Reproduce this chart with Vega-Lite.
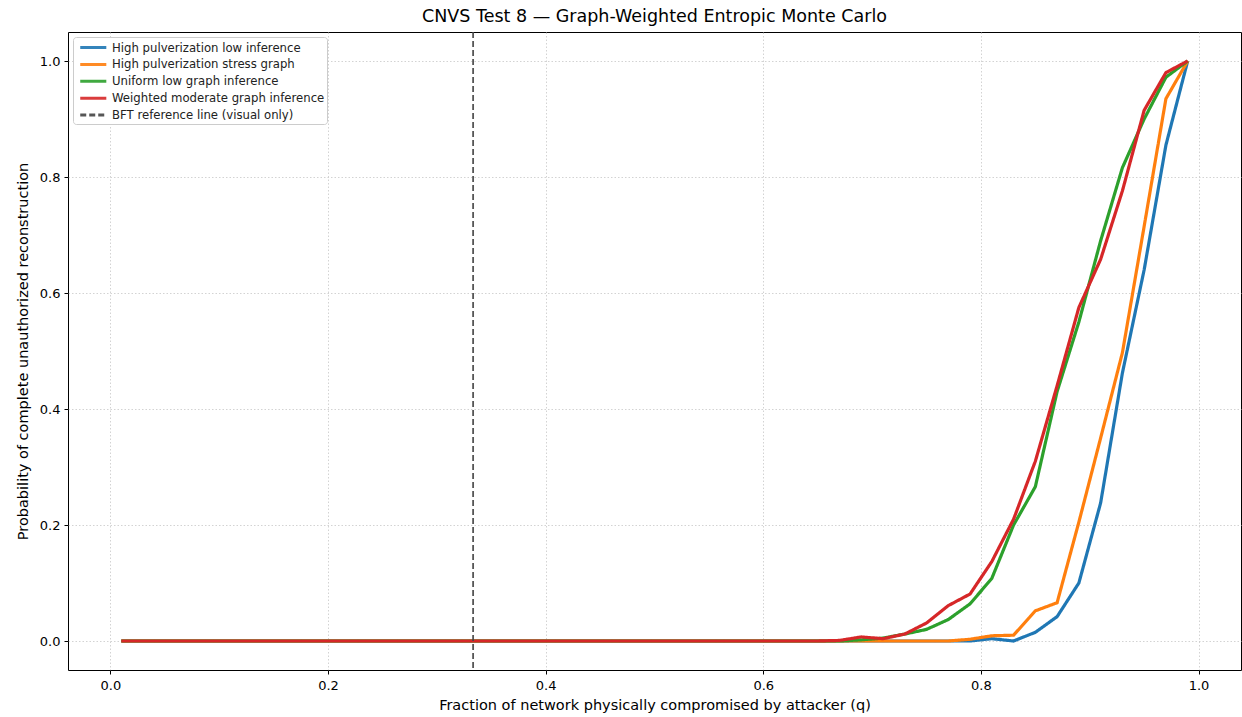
{
  "$schema": "https://vega.github.io/schema/vega-lite/v6.json",
  "width": 1173,
  "height": 638,
  "autosize": {"type": "none"},
  "padding": {"left": 68, "top": 32, "right": 1, "bottom": 47},
  "background": "white",
  "title": {"text": "CNVS Test 8 — Graph-Weighted Entropic Monte Carlo", "fontSize": 17.5, "fontWeight": "normal", "font": "DejaVu Sans", "color": "black", "offset": 6},
  "config": {
    "font": "DejaVu Sans",
    "view": {"stroke": "black", "strokeWidth": 1},
    "axis": {"domain": false, "tickColor": "black", "tickSize": 4, "labelColor": "black", "labelFontSize": 13, "titleFontSize": 14.5, "titleFontWeight": "normal", "titleColor": "black", "gridColor": "#c8c8c8", "gridDash": [1.5, 2], "gridWidth": 0.8}
  },
  "datasets": {
    "curves": [
      {"q": 0.01, "a": 0, "b": 0, "c": 0, "d": 0},
      {"q": 0.03, "a": 0, "b": 0, "c": 0, "d": 0},
      {"q": 0.05, "a": 0, "b": 0, "c": 0, "d": 0},
      {"q": 0.07, "a": 0, "b": 0, "c": 0, "d": 0},
      {"q": 0.09, "a": 0, "b": 0, "c": 0, "d": 0},
      {"q": 0.11, "a": 0, "b": 0, "c": 0, "d": 0},
      {"q": 0.13, "a": 0, "b": 0, "c": 0, "d": 0},
      {"q": 0.15, "a": 0, "b": 0, "c": 0, "d": 0},
      {"q": 0.17, "a": 0, "b": 0, "c": 0, "d": 0},
      {"q": 0.19, "a": 0, "b": 0, "c": 0, "d": 0},
      {"q": 0.21, "a": 0, "b": 0, "c": 0, "d": 0},
      {"q": 0.23, "a": 0, "b": 0, "c": 0, "d": 0},
      {"q": 0.25, "a": 0, "b": 0, "c": 0, "d": 0},
      {"q": 0.27, "a": 0, "b": 0, "c": 0, "d": 0},
      {"q": 0.29, "a": 0, "b": 0, "c": 0, "d": 0},
      {"q": 0.31, "a": 0, "b": 0, "c": 0, "d": 0},
      {"q": 0.33, "a": 0, "b": 0, "c": 0, "d": 0},
      {"q": 0.35, "a": 0, "b": 0, "c": 0, "d": 0},
      {"q": 0.37, "a": 0, "b": 0, "c": 0, "d": 0},
      {"q": 0.39, "a": 0, "b": 0, "c": 0, "d": 0},
      {"q": 0.41, "a": 0, "b": 0, "c": 0, "d": 0},
      {"q": 0.43, "a": 0, "b": 0, "c": 0, "d": 0},
      {"q": 0.45, "a": 0, "b": 0, "c": 0, "d": 0},
      {"q": 0.47, "a": 0, "b": 0, "c": 0, "d": 0},
      {"q": 0.49, "a": 0, "b": 0, "c": 0, "d": 0},
      {"q": 0.51, "a": 0, "b": 0, "c": 0, "d": 0},
      {"q": 0.53, "a": 0, "b": 0, "c": 0, "d": 0},
      {"q": 0.55, "a": 0, "b": 0, "c": 0, "d": 0},
      {"q": 0.57, "a": 0, "b": 0, "c": 0, "d": 0},
      {"q": 0.59, "a": 0, "b": 0, "c": 0, "d": 0},
      {"q": 0.61, "a": 0, "b": 0, "c": 0, "d": 0},
      {"q": 0.63, "a": 0, "b": 0, "c": 0, "d": 0},
      {"q": 0.65, "a": 0, "b": 0, "c": 0, "d": 0},
      {"q": 0.67, "a": 0, "b": 0, "c": 0, "d": 0.001},
      {"q": 0.69, "a": 0, "b": 0, "c": 0.002, "d": 0.007},
      {"q": 0.71, "a": 0, "b": 0, "c": 0.005, "d": 0.004},
      {"q": 0.73, "a": 0, "b": 0, "c": 0.012, "d": 0.012},
      {"q": 0.75, "a": 0, "b": 0, "c": 0.02, "d": 0.031},
      {"q": 0.77, "a": 0, "b": 0, "c": 0.037, "d": 0.061},
      {"q": 0.79, "a": 0, "b": 0.003, "c": 0.064, "d": 0.081},
      {"q": 0.81, "a": 0.004, "b": 0.009, "c": 0.108, "d": 0.137},
      {"q": 0.83, "a": 0.0, "b": 0.01, "c": 0.2, "d": 0.21},
      {"q": 0.85, "a": 0.015, "b": 0.052, "c": 0.266, "d": 0.31},
      {"q": 0.87, "a": 0.042, "b": 0.066, "c": 0.43, "d": 0.44},
      {"q": 0.89, "a": 0.1, "b": 0.205, "c": 0.55, "d": 0.575},
      {"q": 0.91, "a": 0.238, "b": 0.35, "c": 0.69, "d": 0.658},
      {"q": 0.93, "a": 0.462, "b": 0.497, "c": 0.816, "d": 0.776},
      {"q": 0.95, "a": 0.64, "b": 0.715, "c": 0.9, "d": 0.915},
      {"q": 0.97, "a": 0.855, "b": 0.935, "c": 0.972, "d": 0.98},
      {"q": 0.99, "a": 1, "b": 1, "c": 1, "d": 1}
    ],
    "names": [
      {"key": "a", "series": "High pulverization low inference"},
      {"key": "b", "series": "High pulverization stress graph"},
      {"key": "c", "series": "Uniform low graph inference"},
      {"key": "d", "series": "Weighted moderate graph inference"}
    ],
    "bft": [
      {"q": 0.3333, "series": "BFT reference line (visual only)"}
    ]
  },
  "layer": [
    {
      "data": {"name": "curves"},
      "transform": [
        {"fold": ["a", "b", "c", "d"], "as": ["key", "p"]},
        {"lookup": "key", "from": {"data": {"name": "names"}, "key": "key", "fields": ["series"]}}
      ],
      "mark": {"type": "line", "strokeWidth": 3.2, "clip": true},
      "encoding": {
        "x": {"field": "q", "type": "quantitative", "scale": {"domain": [-0.039, 1.039], "nice": false, "zero": false}, "axis": {"values": [0, 0.2, 0.4, 0.6, 0.8, 1.0], "format": ".1f", "title": "Fraction of network physically compromised by attacker (q)", "titlePadding": 6, "labelPadding": 5}},
        "y": {"field": "p", "type": "quantitative", "scale": {"domain": [-0.05, 1.05], "nice": false, "zero": false}, "axis": {"values": [0, 0.2, 0.4, 0.6, 0.8, 1.0], "format": ".1f", "title": "Probability of complete unauthorized reconstruction", "titlePadding": 9, "labelPadding": 4}},
        "color": {"field": "series", "type": "nominal", "sort": null,
          "scale": {"domain": ["High pulverization low inference", "High pulverization stress graph", "Uniform low graph inference", "Weighted moderate graph inference", "BFT reference line (visual only)"], "range": ["#1f77b4", "#ff7f0e", "#2ca02c", "#d62728", "#444444"]},
          "legend": {"title": null, "orient": "none", "legendX": 5, "legendY": 5, "symbolType": "M-0.5,0H3.5", "symbolSize": 170, "symbolStrokeWidth": 3, "labelFontSize": 11.7, "labelLimit": 400, "labelColor": "#222222", "fillColor": "white", "strokeColor": "#cccccc", "cornerRadius": 3, "padding": 2, "rowPadding": 0.9, "labelOffset": 20}},
        "strokeDash": {"field": "series", "type": "nominal", "sort": null,
          "scale": {"domain": ["High pulverization low inference", "High pulverization stress graph", "Uniform low graph inference", "Weighted moderate graph inference", "BFT reference line (visual only)"], "range": [[1, 0], [1, 0], [1, 0], [1, 0], [6, 3]]}}
      }
    },
    {
      "data": {"name": "bft"},
      "mark": {"type": "rule", "strokeWidth": 1.8, "opacity": 0.9},
      "encoding": {
        "x": {"field": "q", "type": "quantitative"},
        "color": {"field": "series", "type": "nominal"},
        "strokeDash": {"field": "series", "type": "nominal"}
      }
    }
  ]
}
